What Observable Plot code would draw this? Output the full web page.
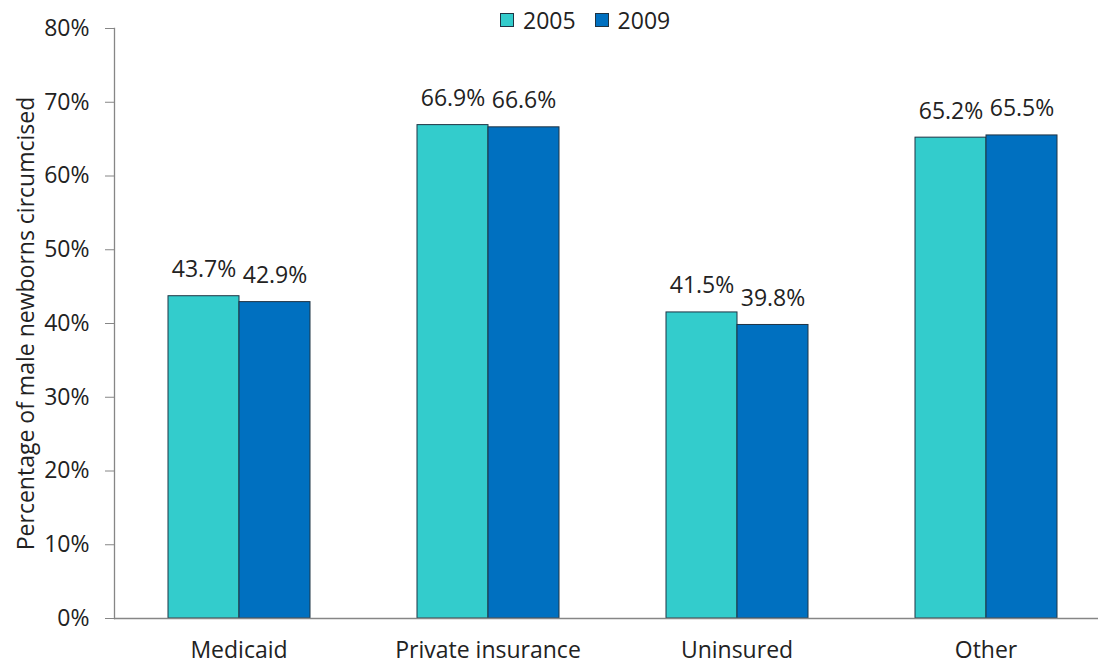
<!DOCTYPE html>
<html><head><meta charset="utf-8">
<script src="https://cdn.jsdelivr.net/npm/d3@7"></script>
<script src="https://cdn.jsdelivr.net/npm/@observablehq/plot@0.6"></script>
<style>
body{margin:0;background:#fff;font-family:"Open Sans",sans-serif;color:#222;}
#wrap{position:relative;width:1098px;height:665px;overflow:hidden;}
#legend{position:absolute;top:6px;left:500px;display:flex;align-items:center;font-size:23px;line-height:28px;}
#legend .item{display:flex;align-items:center;margin-right:19px;}
#legend .sw{width:12px;height:12px;border:1px solid #1f3444;margin-right:9px;}
#chart svg{display:block;}
</style>
</head><body>
<div id="wrap"><div id="legend"></div><div id="chart"></div></div>
<script>
const categories = ["Medicaid", "Private insurance", "Uninsured", "Other"];
const years = ["2005", "2009"];
const values2005 = [0.437, 0.669, 0.415, 0.652];
const values2009 = [0.429, 0.666, 0.398, 0.655];
const colors = ["#33CCCC", "#0070C0"];
const yTicks = [0, 0.1, 0.2, 0.3, 0.4, 0.5, 0.6, 0.7, 0.8];
const yLabel = "Percentage of male newborns circumcised";

const data = [];
categories.forEach((c, i) => {
  data.push({category: c, year: years[0], value: values2005[i]});
  data.push({category: c, year: years[1], value: values2009[i]});
});

const legend = document.getElementById("legend");
years.forEach((y, i) => {
  const it = document.createElement("div");
  it.className = "item";
  it.innerHTML = `<span class="sw" style="background:${colors[i]}"></span><span>${y}</span>`;
  legend.appendChild(it);
});

const gray = "#868686";
const chart = Plot.plot({
  width: 1098,
  height: 665,
  marginTop: 28,
  marginBottom: 47,
  marginLeft: 114,
  marginRight: 0,
  style: {fontFamily: "'Open Sans', sans-serif", fontSize: "23px", color: "#222", background: "#fff"},
  fx: {domain: categories, range: [114, 1110], paddingInner: 0, paddingOuter: 0, axis: null},
  x: {domain: years, paddingInner: 0, paddingOuter: 0.7535, axis: null},
  y: {domain: [0, 0.8], axis: null},
  color: {domain: years, range: colors},
  marks: [
    Plot.axisY({ticks: yTicks, tickFormat: d3.format(".0%"), tickSize: 9, tickPadding: 16, stroke: gray, fill: "#222", fontSize: 23, label: null}),
    Plot.frame({anchor: "left", facetAnchor: "left", stroke: gray, strokeWidth: 1.3}),
    Plot.barY(data, {fx: "category", x: "year", y: "value", fill: "year", stroke: "#1f3444", strokeWidth: 1, inset: 0}),
    Plot.ruleY([0], {stroke: gray, strokeWidth: 1.3}),
    Plot.text(data, {fx: "category", x: "year", y: "value", text: d => (d.value * 100).toFixed(1) + "%", lineAnchor: "bottom", dy: -19, fontSize: 23, fill: "#222"}),
    Plot.axisFx({anchor: "bottom", tickSize: 0, tickPadding: 23, fontSize: 23, fill: "#222", label: null}),
    Plot.text([yLabel], {frameAnchor: "left", textAnchor: "middle", dx: -88, rotate: -90, fontSize: 23, fill: "#222", facetAnchor: "left"})
  ]
});
document.getElementById("chart").appendChild(chart);
</script>
</body></html>
